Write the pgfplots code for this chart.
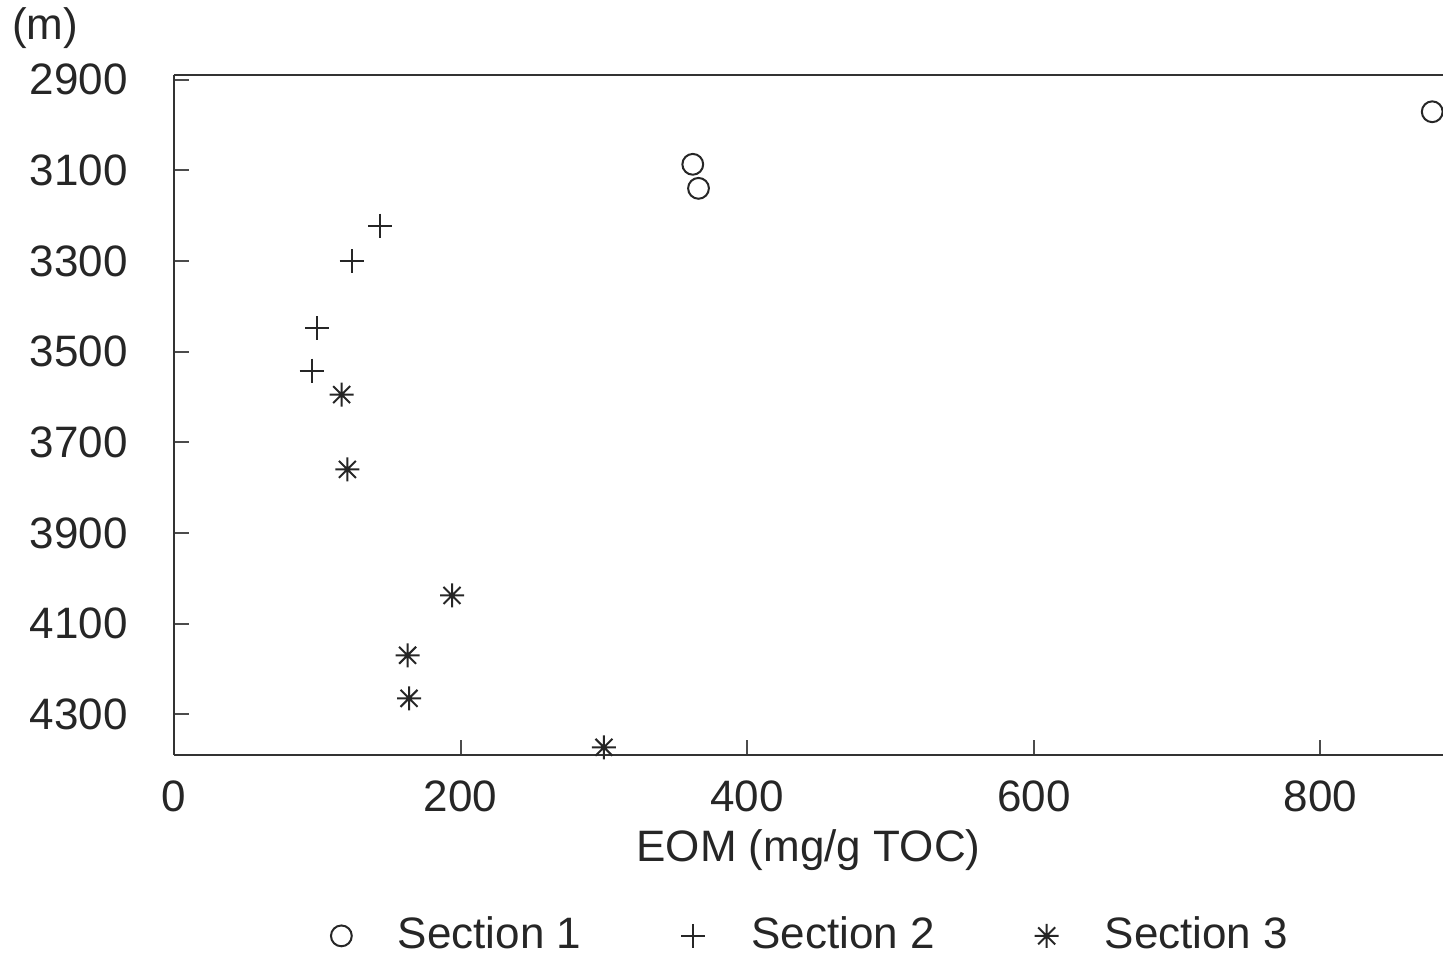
\documentclass[border=0pt]{standalone}
\usepackage{fontspec}
\setmainfont{Liberation Sans}
\usepackage{pgfplots}
\pgfplotsset{compat=1.18}

% eight-ray asterisk, as in the scanned chart
\pgfdeclareplotmark{ast8}{%
  \pgfpathmoveto{\pgfpoint{-\pgfplotmarksize}{0pt}}%
  \pgfpathlineto{\pgfpoint{\pgfplotmarksize}{0pt}}%
  \pgfpathmoveto{\pgfpoint{0pt}{-\pgfplotmarksize}}%
  \pgfpathlineto{\pgfpoint{0pt}{\pgfplotmarksize}}%
  \pgfpathmoveto{\pgfpoint{-.707\pgfplotmarksize}{-.707\pgfplotmarksize}}%
  \pgfpathlineto{\pgfpoint{.707\pgfplotmarksize}{.707\pgfplotmarksize}}%
  \pgfpathmoveto{\pgfpoint{-.707\pgfplotmarksize}{.707\pgfplotmarksize}}%
  \pgfpathlineto{\pgfpoint{.707\pgfplotmarksize}{-.707\pgfplotmarksize}}%
  \pgfusepathqstroke}

\begin{document}
\begin{tikzpicture}
\begin{axis}[
    width=317.25pt, height=170pt, scale only axis,
    xmin=0, xmax=885.5, ymin=2890, ymax=4390, y dir=reverse,
    axis y line*=left, axis x line*=box,
    axis line style={black!80, line width=0.6pt},
    xtick={0,200,400,600,800}, ytick={2900,3100,3300,3500,3700,3900,4100,4300},
    xtick pos=left, ytick pos=left, tick align=inside,
    major tick length=3.75pt,
    tick style={black!70, line width=0.5pt},
    /pgf/number format/assume math mode=true,
    /pgf/number format/set thousands separator={},
    tick label style={font=\fontsize{11}{13}\selectfont, text=black!85},
    yticklabel style={xshift=-8pt},
    xticklabel style={yshift=-3pt},
    xlabel={EOM (mg/g TOC)},
    xlabel style={at={(axis description cs:0.5,-0.1397)}, anchor=center,
                  font=\fontsize{11}{13}\selectfont, text=black!85},
    clip=false,
    legend columns=3,
    legend style={at={(0.504,-0.266)}, anchor=center, draw=none, fill=none,
                  font=\fontsize{11}{13}\selectfont, text=black!85,
                  /tikz/every odd column/.append style={column sep=9.5pt},
                  /tikz/every even column/.append style={column sep=23pt}},
    legend cell align=left,
]
\addplot[only marks, mark=o, mark size=2.6pt, black!85, line width=0.5pt] coordinates
  {(362,3087) (366,3140) (878,2971)};
\addplot[only marks, mark=+, mark size=3pt, black!85, line width=0.5pt] coordinates
  {(144,3222) (124,3301) (100,3449) (96,3542)};
\addplot[only marks, mark=ast8, mark size=3pt, black!85, line width=0.5pt] coordinates
  {(117,3595) (121,3760) (194,4038) (163,4170) (164,4265) (300,4373)};
\legend{Section 1, Section 2, Section 3}
\end{axis}
\node[font=\fontsize{11}{13}\selectfont, text=black!85] at ([xshift=-32.25pt,yshift=11.75pt]current axis.north west) {(m)};
\pgfresetboundingbox
\path[use as bounding box] ([xshift=-43.5pt,yshift=18.75pt]current axis.north west)
  rectangle ([yshift=-50.5pt]current axis.south east);
\end{tikzpicture}
\end{document}
